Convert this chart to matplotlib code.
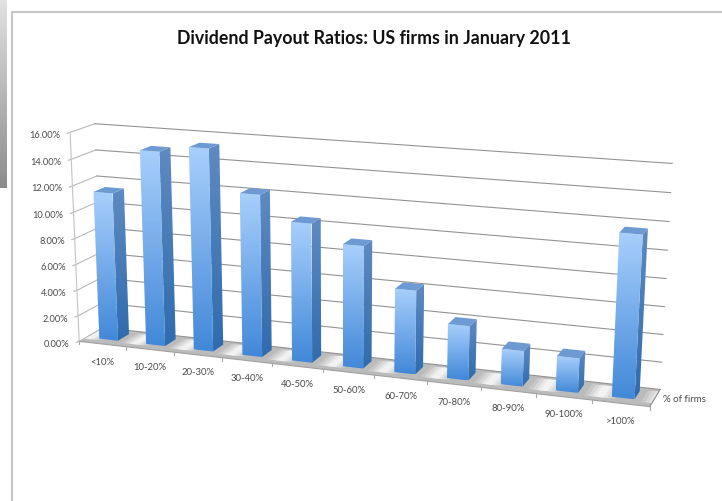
import numpy as np
import matplotlib
matplotlib.use("Agg")
import matplotlib.pyplot as plt
from matplotlib.colors import LinearSegmentedColormap
from matplotlib.patches import Polygon

# Values
categories = ["<10%", "10-20%", "20-30%", "30-40%", "40-50%", "50-60%",
              "60-70%", "70-80%", "80-90%", "90-100%", ">100%"]
pct_firms = [11.4, 14.8, 15.3, 12.2, 10.4, 9.1, 6.2, 4.0, 2.6, 2.5, 11.6]
y_ticks = [0, 2, 4, 6, 8, 10, 12, 14, 16]

# Where the corners of the 3D box land on the image: (u, v, h) -> (px, py)
corners = [
    ((0, 0, 0), (80, 341)), ((0, 0, 16), (69, 133)),
    ((11, 0, 0), (650, 408)), ((11, 0, 16), (662, 177)),
    ((0, 1, 0), (102, 330)), ((0, 1, 16), (96, 125)),
    ((11, 1, 0), (660, 390)), ((11, 1, 16), (672, 163)),
]


def fit_camera(pairs):
    rows = []
    for (u, v, h), (x, y) in pairs:
        rows.append([u, v, h, 1, 0, 0, 0, 0, -x*u, -x*v, -x*h, -x])
        rows.append([0, 0, 0, 0, u, v, h, 1, -y*u, -y*v, -y*h, -y])
    return np.linalg.svd(np.array(rows, float))[2][-1].reshape(3, 4)


cam = fit_camera(corners)


def project(u, v, h):
    p = cam @ np.array([u, v, h, 1.0])
    return p[0] / p[2], p[1] / p[2]


def shaded_poly(ax, pts, top, bottom, z):
    # vertical gradient clipped to a polygon
    pts = np.array(pts)
    cmap = LinearSegmentedColormap.from_list("g", [top, bottom])
    im = ax.imshow(np.linspace(0, 1, 128).reshape(-1, 1), cmap=cmap, aspect="auto",
                   extent=[pts[:, 0].min(), pts[:, 0].max(), pts[:, 1].max(), pts[:, 1].min()],
                   zorder=z, interpolation="bilinear")
    im.set_clip_path(Polygon(pts, closed=True, transform=ax.transData))


fig = plt.figure(figsize=(7.22, 5.02), dpi=100)
ax = fig.add_axes([0, 0, 1, 1])
ax.axis("off")

# page furniture: grey strip at left and the slide frame
shaded_poly(ax, [(0, 0), (7, 0), (7, 189), (0, 189)], "#e2e2e2", "#8c8c8c", 1)
ax.plot([12, 12, 722], [502, 13, 13], color="#c9c9c9", lw=1.6, zorder=1)

# floor
floor = [project(0, 0, 0), project(11, 0, 0), project(11, 1, 0), project(0, 1, 0)]
ax.add_patch(Polygon(floor, closed=True, fc="#bbbbbb", ec="none", zorder=2))
for i in range(12):
    c = i + 0.08
    for half, alpha in zip([0.27, 0.2, 0.13, 0.07], [0.2, 0.28, 0.38, 0.5]):
        a, b = max(c - half, 0), min(c + half, 11)
        stripe = [project(a, 0.2, 0), project(b, 0.2, 0), project(b, 0.88, 0), project(a, 0.88, 0)]
        ax.add_patch(Polygon(stripe, closed=True, fc="white", alpha=alpha, ec="none", zorder=2))

# walls and gridlines
for h in y_ticks:
    x0, y0 = project(0, 0, h)
    x1, y1 = project(0, 1, h)
    x2, y2 = project(11, 1, h)
    ax.plot([x0 - 3, x0, x1], [y0 + 1, y0, y1], color="#b8b8b8", lw=0.8, zorder=3)
    ax.plot([x1, x2], [y1, y2], color="#939393", lw=0.8, zorder=3)
    ax.text(x0 - 10, y0 + 2, f"{h:.2f}%", ha="right", va="center",
            fontsize=6.7, color="#4a4a4a", family="Lato", zorder=6)

ax.plot(*zip(project(0, 0, 0), project(0, 0, 16)), color="#c4c4c4", lw=0.8, zorder=3)
ax.plot(*zip(*floor[:2]), color="#a0a0a0", lw=0.8, zorder=3)
ax.plot(*zip(project(11, 0, 0), project(11, 1, 0)), color="#8a8a8a", lw=0.8, zorder=3)

for i in range(12):
    x, y = project(i, 0, 0)
    ax.plot([x, x], [y, y + 3], color="#a8a8a8", lw=0.8, zorder=3)

# bars
bar_w = 0.40
bar_c = 0.48
v0, v1 = 0.3, 0.78
for i, val in enumerate(pct_firms):
    a, b = i + bar_c - bar_w / 2, i + bar_c + bar_w / 2
    front = [project(a, v0, val), project(b, v0, val), project(b, v0, 0), project(a, v0, 0)]
    side = [project(b, v0, val), project(b, v1, val), project(b, v1, 0), project(b, v0, 0)]
    top = [project(a, v0, val), project(b, v0, val), project(b, v1, val), project(a, v1, val)]
    shaded_poly(ax, side, "#5f8ac2", "#2f6cad", 4)
    shaded_poly(ax, front, "#a8cffc", "#4288d8", 4)
    ax.add_patch(Polygon(top, closed=True, fc="#6d9ad2", ec="none", zorder=5))
    x, y = project(i + 0.5, 0, 0)
    ax.text(x, y + 17, categories[i], ha="center", va="center",
            fontsize=6.8, color="#4a4a4a", family="Lato", zorder=6)

ax.text(663, 400, "% of firms", ha="left", va="center", fontsize=7,
        color="#4a4a4a", family="Lato", zorder=6)
ax.text(374, 38.5, "Dividend Payout Ratios: US firms in January 2011", ha="center", va="center",
        fontsize=12.8, fontweight="bold", color="#111111", family="Lato", zorder=6)

ax.set_xlim(0, 722)
ax.set_ylim(502, 0)
fig.savefig("out.png", dpi=100)
